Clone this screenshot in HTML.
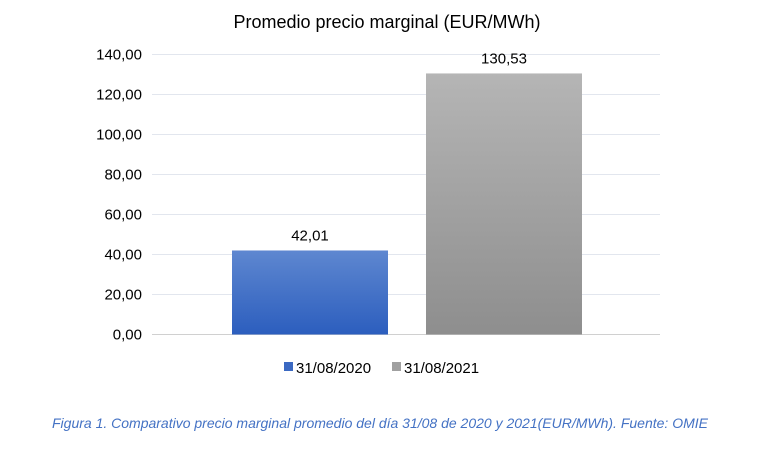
<!DOCTYPE html>
<html><head><meta charset="utf-8"><style>
body{margin:0;background:#fff;width:761px;height:446px;overflow:hidden;font-family:"Liberation Sans",sans-serif}
</style></head><body>
<svg width="761" height="446" xmlns="http://www.w3.org/2000/svg">
<defs>
<linearGradient id="gb" x1="0" y1="0" x2="0" y2="1"><stop offset="0" stop-color="#5e87d0"/><stop offset="1" stop-color="#2c5ebe"/></linearGradient>
<linearGradient id="gg" x1="0" y1="0" x2="0" y2="1"><stop offset="0" stop-color="#b5b5b5"/><stop offset="1" stop-color="#8e8e8e"/></linearGradient>
</defs>
<text x="387" y="28" text-anchor="middle" font-size="18" fill="#000">Promedio precio marginal (EUR/MWh)</text>
<g id="grid"></g><g id="bars"></g>
<g>
<rect x="284" y="362" width="9" height="9" fill="#3b69c2"/>
<text x="296" y="373" font-size="15">31/08/2020</text>
<rect x="392" y="362" width="9" height="9" fill="#a0a0a0"/>
<text x="404" y="373" font-size="15">31/08/2021</text>
</g>
<text x="380" y="428" text-anchor="middle" font-size="14" font-style="italic" fill="#4472c4">Figura 1. Comparativo precio marginal promedio del día 31/08 de 2020 y 2021(EUR/MWh). Fuente: OMIE</text>
</svg>
<script>
const categories=["31/08/2020","31/08/2021"];
const values=[42.01,130.53];
const ticks=[0,20,40,60,80,100,120,140];
const ns="http://www.w3.org/2000/svg";
const y=v=>334.5-v*2;
const grid=document.getElementById("grid"),bars=document.getElementById("bars");
ticks.forEach(t=>{
 const l=document.createElementNS(ns,"line");
 
 
 l.setAttribute("x1",152);l.setAttribute("x2",660);l.setAttribute("y1",y(t));l.setAttribute("y2",y(t));
 l.setAttribute("stroke",t===0?"#d0d0d0":"#e2e6ee");l.setAttribute("stroke-width","1");
 grid.appendChild(l);
 const tx=document.createElementNS(ns,"text");
 
 
 tx.setAttribute("x",142);tx.setAttribute("y",y(t)+5);tx.setAttribute("text-anchor","end");tx.setAttribute("font-size","15");
 tx.textContent=t.toFixed(2).replace(".",",");grid.appendChild(tx);
});
const fills=["url(#gb)","url(#gg)"];
values.forEach((v,i)=>{
 const x=232+i*194;
 const r=document.createElementNS(ns,"rect");
 
 
 r.setAttribute("x",x);r.setAttribute("width",156);r.setAttribute("y",y(v));r.setAttribute("height",y(0)-y(v));
 r.setAttribute("fill",fills[i]);bars.appendChild(r);
 const t=document.createElementNS(ns,"text");
 
 
 t.setAttribute("x",x+78);t.setAttribute("y",y(v)-10);t.setAttribute("text-anchor","middle");t.setAttribute("font-size","15");
 t.textContent=v.toFixed(2).replace(".",",");bars.appendChild(t);
});
</script>
</body></html>
